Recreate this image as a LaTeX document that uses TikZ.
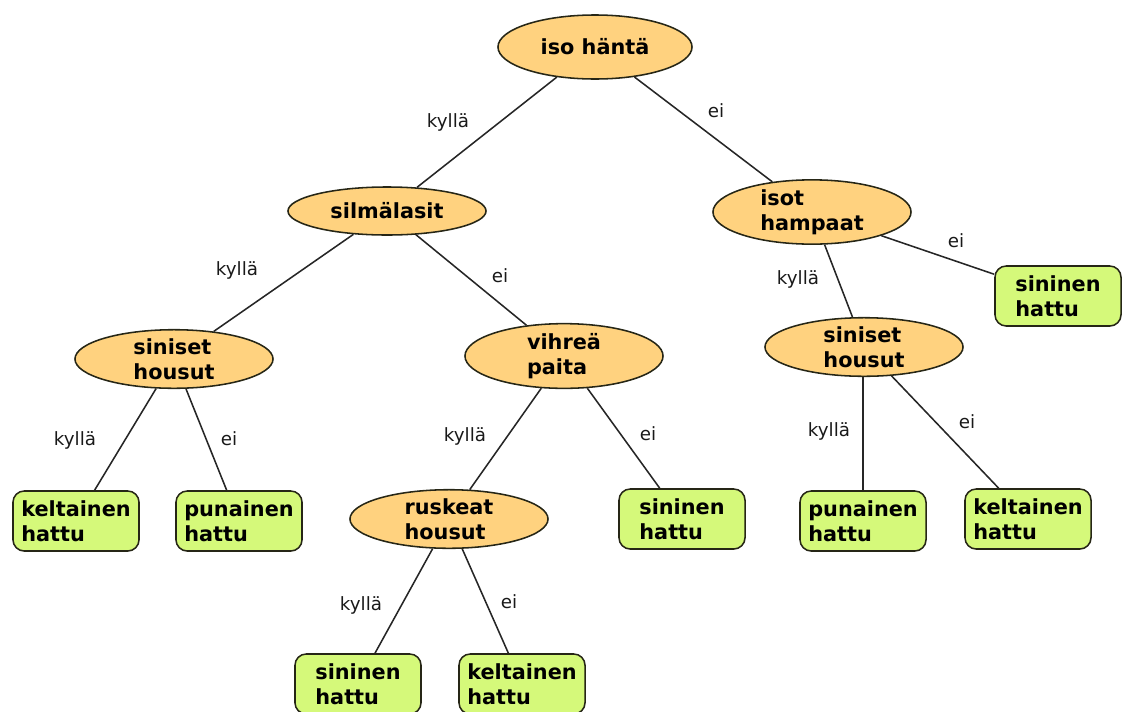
\documentclass[tikz,border=0pt]{standalone}
\usepackage{fontspec}
\setmainfont{DejaVu Sans}
\usetikzlibrary{shapes.geometric}
\definecolor{oranssi}{HTML}{FFD27F}
\definecolor{vihrea}{HTML}{D5F97A}
\definecolor{reuna}{HTML}{262616}
\tikzset{
  kysymys/.style={ellipse,draw=reuna,line width=1.1pt,fill=oranssi,align=left,inner sep=0pt,
    font=\fontsize{14.8}{18}\selectfont\bfseries,minimum width=4.95cm,minimum height=1.35cm},
  hattu/.style={rectangle,rounded corners=8pt,draw=reuna,line width=1.1pt,fill=vihrea,align=left,inner sep=0pt,
    font=\fontsize{14.8}{18}\selectfont\bfseries,minimum width=3.15cm,minimum height=1.5cm},
  viiva/.style={line width=1.1pt,color=black!85},
  vastaus/.style={font=\fontsize{13}{15}\selectfont,color=black!90},
}
\begin{document}
\begin{tikzpicture}[x=0.025cm,y=-0.025cm]
  \useasboundingbox (0,0) rectangle (1122,711);
  % kysymykset
  \node[kysymys,minimum width=4.85cm,minimum height=1.6cm] (hanta) at (595,47) {iso häntä};
  \node[kysymys,minimum height=1.2cm] (lasit) at (387,211) {silmälasit};
  \node[kysymys] (hampaat) at (812,212) {isot\\hampaat};
  \node[kysymys] (housut1) at (174,359) {siniset\\housut};
  \node[kysymys] (paita) at (564,356) {vihreä\\paita};
  \node[kysymys] (housut2) at (864,347) {siniset\\housut};
  \node[kysymys] (ruskeat) at (449,519) {ruskeat\\housut};
  % hatut
  \node[hattu] (h1) at (76,521) {keltainen\\hattu};
  \node[hattu] (h2) at (239,521) {punainen\\hattu};
  \node[hattu] (h3) at (682,519) {sininen\\hattu};
  \node[hattu] (h4) at (1058,296) {sininen\\hattu};
  \node[hattu] (h5) at (863,521) {punainen\\hattu};
  \node[hattu] (h6) at (1028,519) {keltainen\\hattu};
  \node[hattu] (h7) at (358,684) {sininen\\hattu};
  \node[hattu] (h8) at (522,684) {keltainen\\hattu};
  % viivat
  \draw[viiva] (hanta) -- (lasit);
  \draw[viiva] (hanta) -- (hampaat);
  \draw[viiva] (lasit) -- (housut1);
  \draw[viiva] (lasit) -- (paita);
  \draw[viiva] (hampaat) -- (h4);
  \draw[viiva] (hampaat) -- (housut2);
  \draw[viiva] (housut1) -- (h1);
  \draw[viiva] (housut1) -- (h2);
  \draw[viiva] (paita) -- (ruskeat);
  \draw[viiva] (paita) -- (h3);
  \draw[viiva] (h5.north) -- (h5.north |- housut2.south);
  \draw[viiva] (housut2) -- (h6);
  \draw[viiva] (ruskeat) -- (h7);
  \draw[viiva] (ruskeat) -- (h8);
  % vastaukset
  \node[vastaus] (v1) at (448,122) {kyllä};
  \node[vastaus] (v2) at (716,111) {ei};
  \node[vastaus] (v3) at (237,270) {kyllä};
  \node[vastaus] (v4) at (500,276) {ei};
  \node[vastaus] (v5) at (956,241) {ei};
  \node[vastaus] (v6) at (798,279) {kyllä};
  \node[vastaus] (v7) at (75,440) {kyllä};
  \node[vastaus] (v8) at (229,439) {ei};
  \node[vastaus] (v9) at (465,436) {kyllä};
  \node[vastaus] (v10) at (648,434) {ei};
  \node[vastaus] (v11) at (829,431) {kyllä};
  \node[vastaus] (v12) at (967,422) {ei};
  \node[vastaus] (v13) at (361,605) {kyllä};
  \node[vastaus] (v14) at (509,602) {ei};
\end{tikzpicture}
\end{document}
